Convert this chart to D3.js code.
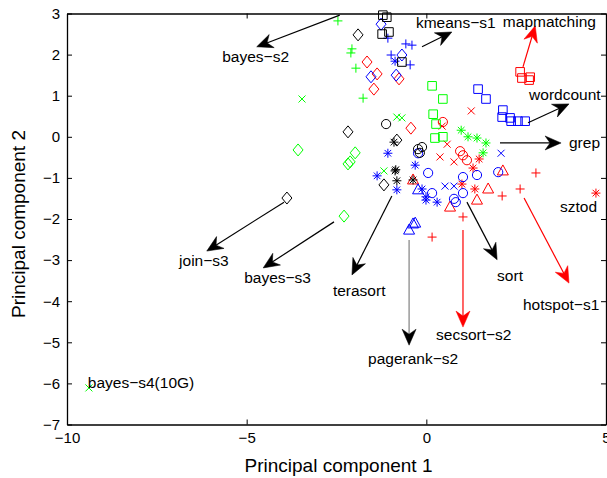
<!DOCTYPE html>
<html>
  <head>
    <meta charset="utf-8">
    <title>PCA scatter</title>
    <script src="https://d3js.org/d3.v7.min.js"></script>
    <style>
      body { margin: 0; background: #fff; }
      text { font-family: "Liberation Sans", Arial, sans-serif; }
    </style>
  </head>
  <body>
    <script>
      // axis setup
      var xDomain = [-10, 5];
      var yDomain = [-7, 3];
      var xTicks = [-10, -5, 0, 5];
      var yTicks = [-7, -6, -5, -4, -3, -2, -1, 0, 1, 2, 3];

      // red points
      var redSquares = [[2.61, 1.58], [2.66, 1.43], [2.86, 1.38], [2.89, 1.45]];
      var redDiamonds = [[-1.65, 1.82], [-1.37, 1.53], [-1.46, 1.16], [-0.76, 1.41], [-0.43, 0.21]];
      var redCircles = [[0.46, 0.36], [0.94, -0.35], [1.02, -0.45], [1.13, -0.57]];
      var redX = [[1.25, 0.63], [0.44, 0.26], [0.58, -0.18], [0.38, -0.49], [0.77, -0.61]];
      var redStars = [[1.47, -0.54], [1.30, -0.76], [0.99, -1.15], [1.35, -1.27], [4.72, -1.37]];
      var redTriangles = [[-0.37, -1.05], [1.72, -1.27], [1.41, -1.54], [0.66, -1.71], [2.13, -0.83]];
      var redPlus = [[1.02, -1.95], [0.16, -2.44], [2.11, -1.44], [2.61, -1.27], [3.05, -0.88]];

      // green points
      var greenPlus = [[-2.46, 2.82], [-2.07, 2.14], [-2.10, 2.04], [-1.96, 1.67], [-1.76, 0.94]];
      var greenX = [[-3.46, 0.92], [-0.82, 0.48], [-0.68, 0.46], [-1.18, -0.83], [-9.39, -6.11]];
      var greenSquares = [[0.16, 1.24], [0.46, 0.92], [0.19, 0.55], [0.27, 0.31], [0.24, -0.03], [0.46, 0.00]];
      var greenStars = [[0.97, 0.16], [1.16, 0.00], [1.41, -0.03], [1.66, -0.15], [1.58, -0.39]];
      var greenDiamonds = [[-3.57, -0.32], [-1.98, -0.39], [-2.18, -0.66], [-2.12, -0.61], [-2.29, -1.93]];

      // blue points
      var bluePlus = [[-1.07, 2.40], [-0.57, 2.26], [-0.40, 2.23], [-0.98, 1.99], [-0.45, 1.75]];
      var blueDiamonds = [[-1.26, 2.74], [-0.68, 1.99], [-1.54, 1.46], [-0.84, 1.50]];
      var blueStars = [[-0.87, 1.84], [-1.07, -0.40], [-1.37, -0.95], [-0.82, -1.29], [-0.31, -0.69],
                       [-0.12, -1.27], [-0.01, -1.46], [-0.01, -1.54], [0.30, -1.59]];
      var blueCircles = [[0.05, -0.88], [1.41, -0.93], [1.02, -0.98], [0.16, -1.37], [1.02, -1.37],
                         [0.77, -1.51], [0.82, -1.59], [2.00, -0.86], [-0.23, -0.40]];
      var blueX = [[0.52, -1.20], [0.77, -1.20], [2.08, -0.40]];
      var blueSquares = [[1.44, 1.16], [1.66, 0.92], [2.13, 0.65], [2.11, 0.48], [2.36, 0.38],
                         [2.33, 0.46], [2.55, 0.38], [2.75, 0.38]];
      var blueTriangles = [[-0.23, -1.29], [-0.31, -2.10], [-0.48, -2.27], [-0.37, -2.12]];

      // black points
      var blackSquares = [[-1.21, 2.96], [-1.10, 2.91], [-1.23, 2.50], [-1.04, 2.55], [-0.68, 1.82]];
      var blackDiamonds = [[-1.90, 2.48], [-2.18, 0.12], [-0.82, -0.08], [-1.18, -1.17], [-3.88, -1.49]];
      var blackCircles = [[-1.12, 0.31], [-0.23, -0.30], [-0.12, -0.25], [-0.18, -0.39]];
      var blackStars = [[-0.90, -0.13], [-0.87, -0.83], [-0.85, -0.80], [-0.82, -1.07], [-0.37, -1.05]];

      // annotations: label, arrow start/end, label anchor (data units)
      var labels = ["bayes\u2212s2", "kmeans\u2212s1", "mapmatching", "wordcount", "grep", "sztod",
                    "hotspot\u2212s1", "sort", "secsort\u2212s2", "pagerank\u2212s2", "terasort",
                    "bayes\u2212s3", "join\u2212s3", "bayes\u2212s4(10G)"];
      var arrowFrom = [[-2.41, 2.96], [-0.12, 2.19], [2.69, 1.70], [2.83, 0.34], [2.05, -0.15], null,
                       [2.72, -1.49], [1.13, -1.59], [1.02, -2.27], [-0.48, -2.51], [-0.96, -1.44],
                       [-2.57, -2.07], [-3.96, -1.59], null];
      var arrowTo = [[-4.72, 2.19], [0.71, 2.55], [3.03, 2.70], [3.97, 0.80], [3.75, -0.15], null,
                     [3.97, -3.56], [1.97, -2.99], [1.02, -4.63], [-0.48, -5.07], [-2.07, -3.36],
                     [-4.54, -3.19], [-6.11, -2.78], null];
      var labelAt = [[-5.68, 1.82], [-0.29, 2.65], [2.13, 2.67], [2.86, 0.90], [3.97, -0.27], [3.72, -1.83],
                     [2.69, -4.21], [1.97, -3.51], [0.27, -4.94], [-1.62, -5.53], [-2.60, -3.87],
                     [-5.07, -3.56], [-6.88, -3.14], [-9.42, -6.11]];
      var arrowColor = ["black", "black", "red", "black", "black", null, "red", "black", "red",
                        "#808080", "black", "black", "black", null];

      var W = 607, H = 478;
      var margin = {top: 13.5, right: 1, bottom: 53.5, left: 67};

      var x = d3.scaleLinear().domain(xDomain).range([margin.left, W - margin.right]);
      var y = d3.scaleLinear().domain(yDomain).range([H - margin.bottom, margin.top]);

      var svg = d3.select("body").append("svg")
                  .attr("width", W)
                  .attr("height", H);

      // marker shapes
      var shapes = {
        plus: "M-4.5,0H4.5M0,-4.5V4.5",
        cross: "M-3.5,-3.5L3.5,3.5M-3.5,3.5L3.5,-3.5",
        star: "M-4.5,0H4.5M0,-4.5V4.5M-3.3,-3.3L3.3,3.3M-3.3,3.3L3.3,-3.3",
        circle: "M4.6,0A4.6,4.6 0 1,1 -4.6,0A4.6,4.6 0 1,1 4.6,0Z",
        square: "M-4.3,-4.3H4.3V4.3H-4.3Z",
        diamond: "M0,-6L5,0L0,6L-5,0Z",
        triangle: "M0,-6L5.5,4L-5.5,4Z"
      };

      var groups = [
        [redSquares, "square", "red"], [redDiamonds, "diamond", "red"], [redCircles, "circle", "red"],
        [redX, "cross", "red"], [redStars, "star", "red"], [redTriangles, "triangle", "red"], [redPlus, "plus", "red"],
        [greenPlus, "plus", "#00ff00"], [greenX, "cross", "#00ff00"], [greenSquares, "square", "#00ff00"],
        [greenStars, "star", "#00ff00"], [greenDiamonds, "diamond", "#00ff00"],
        [bluePlus, "plus", "blue"], [blueDiamonds, "diamond", "blue"], [blueStars, "star", "blue"],
        [blueCircles, "circle", "blue"], [blueX, "cross", "blue"], [blueSquares, "square", "blue"],
        [blueTriangles, "triangle", "blue"],
        [blackSquares, "square", "black"], [blackDiamonds, "diamond", "black"],
        [blackCircles, "circle", "black"], [blackStars, "star", "black"]
      ];

      // axes box with inward ticks on all four sides
      var axisG = svg.append("g").attr("class", "axes");
      var tickLen = 5;

      axisG.append("g")
        .attr("transform", "translate(0," + (H - margin.bottom) + ")")
        .call(d3.axisBottom(x).tickValues(xTicks).tickSizeInner(-tickLen).tickSizeOuter(0)
              .tickFormat(function(d) { return d < 0 ? "\u2212" + Math.abs(d) : d; }))
        .call(function(g) {
          g.selectAll("text").attr("dy", null).attr("y", 18).style("font-size", "15px");
        });
      axisG.append("g")
        .attr("transform", "translate(0," + margin.top + ")")
        .call(d3.axisTop(x).tickValues(xTicks).tickSizeInner(-tickLen).tickSizeOuter(0).tickFormat(""));
      axisG.append("g")
        .attr("transform", "translate(" + margin.left + ",0)")
        .call(d3.axisLeft(y).tickValues(yTicks).tickSizeInner(-tickLen).tickSizeOuter(0)
              .tickFormat(function(d) { return d < 0 ? "\u2212" + Math.abs(d) : d; }))
        .call(function(g) {
          g.selectAll("text").attr("x", -7).style("font-size", "15px");
        });
      axisG.append("g")
        .attr("transform", "translate(" + (W - margin.right) + ",0)")
        .call(d3.axisRight(y).tickValues(yTicks).tickSizeInner(-tickLen).tickSizeOuter(0).tickFormat(""));

      axisG.selectAll(".domain").attr("stroke", "black").attr("stroke-width", 1.3);
      axisG.selectAll(".tick line").attr("stroke", "black");
      axisG.selectAll(".tick text").attr("fill", "black").style("font-family", "Liberation Sans, Arial, sans-serif");

      // axis titles
      svg.append("text")
        .attr("x", (margin.left + W - margin.right) / 2 + 2)
        .attr("y", 472)
        .attr("text-anchor", "middle")
        .style("font-size", "19px")
        .text("Principal component 1");
      svg.append("text")
        .attr("transform", "translate(25," + ((margin.top + H - margin.bottom) / 2 + 5) + ") rotate(-90)")
        .attr("text-anchor", "middle")
        .style("font-size", "19px")
        .text("Principal component 2");

      // markers
      var markG = svg.append("g").attr("class", "markers");
      groups.forEach(function(grp) {
        markG.selectAll(null)
          .data(grp[0])
          .enter().append("path")
          .attr("d", shapes[grp[1]])
          .attr("transform", function(d) { return "translate(" + x(d[0]) + "," + y(d[1]) + ")"; })
          .attr("fill", "none")
          .attr("stroke", grp[2])
          .attr("stroke-width", 1);
      });

      // annotation arrows
      var annG = svg.append("g").attr("class", "annotations");
      labels.forEach(function(lab, i) {
        if (arrowFrom[i]) {
          var x1 = x(arrowFrom[i][0]), y1 = y(arrowFrom[i][1]);
          var x2 = x(arrowTo[i][0]), y2 = y(arrowTo[i][1]);
          var ang = Math.atan2(y2 - y1, x2 - x1) * 180 / Math.PI;
          var headColor = arrowColor[i] === "red" ? "red" : "black";
          annG.append("line")
            .attr("x1", x1).attr("y1", y1)
            .attr("x2", x2 - 8 * Math.cos(ang * Math.PI / 180))
            .attr("y2", y2 - 8 * Math.sin(ang * Math.PI / 180))
            .attr("stroke", arrowColor[i])
            .attr("stroke-width", 1.2);
          annG.append("path")
            .attr("d", "M0,0L-16,-7L-11,0L-16,7Z")
            .attr("transform", "translate(" + x2 + "," + y2 + ") rotate(" + ang + ")")
            .attr("fill", headColor)
            .attr("stroke", headColor)
            .attr("stroke-width", 0.5);
        }
        annG.append("text")
          .attr("x", x(labelAt[i][0]))
          .attr("y", y(labelAt[i][1]))
          .style("font-size", "15.5px")
          .attr("fill", "black")
          .text(lab);
      });
    </script>
  </body>
</html>
